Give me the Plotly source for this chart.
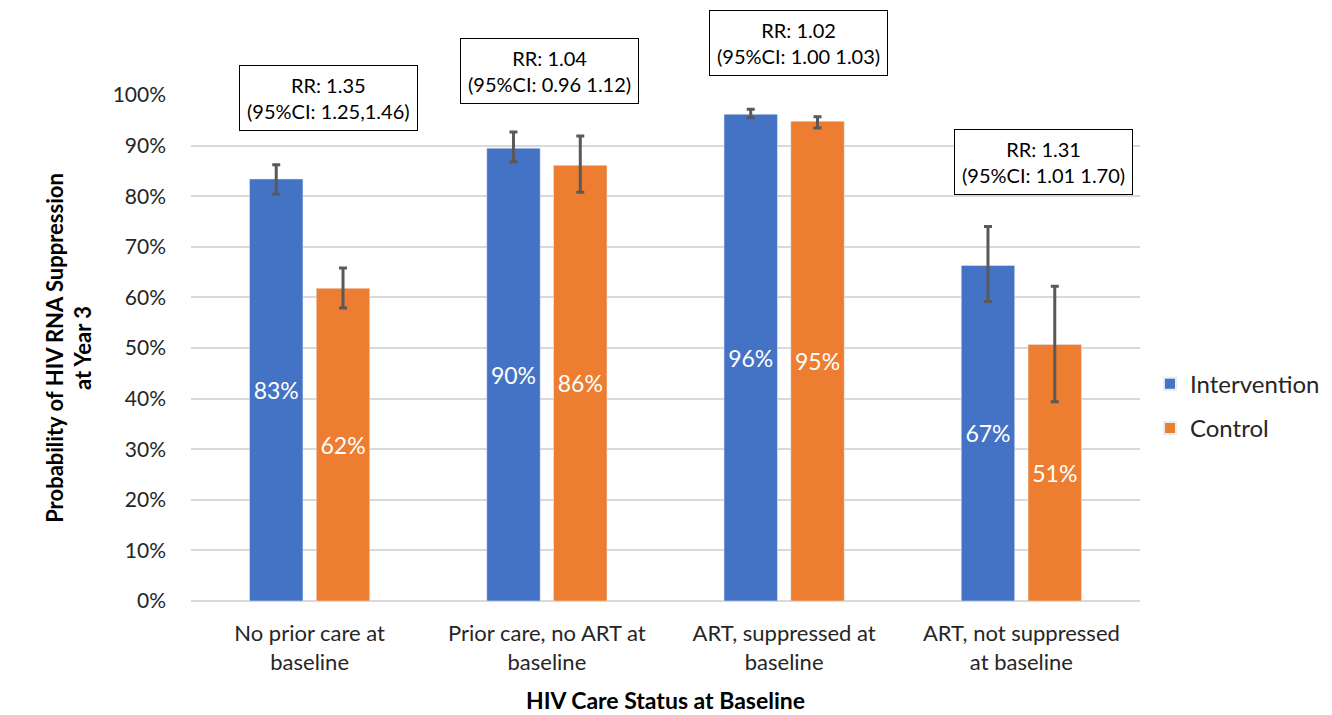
import plotly.graph_objects as go

categories = ["No prior care at<br>baseline", "Prior care, no ART at<br>baseline",
              "ART, suppressed at<br>baseline", "ART, not suppressed<br>at baseline"]
intervention = [83.4, 89.5, 96.2, 66.3]
intervention_hi = [86.2, 92.7, 97.2, 74.0]
intervention_lo = [80.4, 86.8, 95.5, 59.2]
intervention_labels = ["83%", "90%", "96%", "67%"]
control = [61.8, 86.1, 94.8, 50.7]
control_hi = [65.8, 91.9, 95.7, 62.2]
control_lo = [57.9, 80.8, 93.5, 39.4]
control_labels = ["62%", "86%", "95%", "51%"]
rr_texts = ["RR: 1.35<br>(95%CI: 1.25,1.46)", "RR: 1.04<br>(95%CI: 0.96 1.12)",
            "RR: 1.02<br>(95%CI: 1.00 1.03)", "RR: 1.31<br>(95%CI: 1.01 1.70)"]
rr_y = [99.5, 104.7, 110.3, 86.7]
rr_xshift = [19, 3, 14, 22]
y_ticks = list(range(0, 101, 10))
Y_MAX = 100

FONT = "Lato"

fig = go.Figure()
fig.add_trace(go.Bar(
    name="Intervention", x=categories, y=intervention, marker_color="#4472c4",
    legendgroup="a",
    text=intervention_labels, textposition="inside", insidetextanchor="middle",
    textfont=dict(color="white", size=23, family=FONT),
    error_y=dict(type="data", symmetric=False,
                 array=[h - v for h, v in zip(intervention_hi, intervention)],
                 arrayminus=[v - l for v, l in zip(intervention, intervention_lo)],
                 color="#595959", thickness=3, width=4),
))
fig.add_trace(go.Bar(
    name="Control", x=categories, y=control, marker_color="#ed7d31",
    legendgroup="b",
    text=control_labels, textposition="inside", insidetextanchor="middle",
    textfont=dict(color="white", size=23, family=FONT),
    error_y=dict(type="data", symmetric=False,
                 array=[h - v for h, v in zip(control_hi, control)],
                 arrayminus=[v - l for v, l in zip(control, control_lo)],
                 color="#595959", thickness=3, width=4),
))

for c, t, y, xs in zip(categories, rr_texts, rr_y, rr_xshift):
    fig.add_annotation(x=c, xref="x", y=y / Y_MAX, yref="paper", yanchor="middle",
                       text=t, showarrow=False, xshift=xs,
                       font=dict(family=FONT, size=20, color="black"),
                       bgcolor="white", bordercolor="black", borderwidth=1, borderpad=7)

fig.update_layout(
    width=1332, height=715,
    paper_bgcolor="white", plot_bgcolor="white",
    margin=dict(l=183, r=200, t=87, b=122, autoexpand=False),
    barmode="group", bargap=0.437, bargroupgap=0.2,
    font=dict(family=FONT, size=21, color="#262626"),
    legend=dict(x=1.0105, y=0.385, xanchor="left", yanchor="middle",
                font=dict(size=24, color="#262626"), itemsizing="constant",
                tracegroupgap=10),
    xaxis=dict(title=dict(text="<b>HIV Care Status at Baseline</b>", font=dict(size=23, color="black"), standoff=19),
               tickfont=dict(size=22, color="#262626"), showline=False, ticks="",
               ticklabelstandoff=17),
    yaxis=dict(title=dict(text="<b>Probability of HIV RNA Suppression<br>at Year 3</b>", font=dict(size=22, color="black"), standoff=14),
               range=[0, Y_MAX], tickvals=y_ticks, ticktext=[f"{v}%" for v in y_ticks],
               tickfont=dict(size=21, color="#262626"),
               showgrid=True, gridcolor="#d9d9d9", gridwidth=1.5,
               zeroline=True, zerolinecolor="#d9d9d9", zerolinewidth=1.5,
               ticks="", ticklabelstandoff=24),
)

fig.write_html("out.html")
